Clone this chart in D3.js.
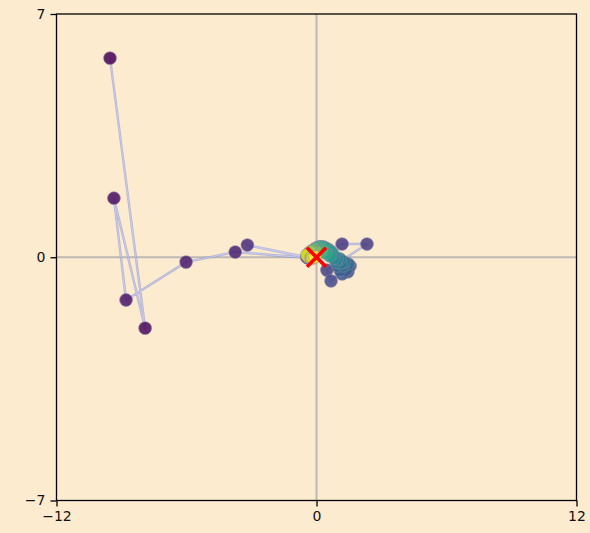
<!DOCTYPE html>
<html>
<head>
<meta charset="utf-8">
<script src="https://cdn.jsdelivr.net/npm/d3@7"></script>
<style>
  html, body { margin: 0; padding: 0; background: #fdebd0; }
  svg { display: block; }
  text { font-family: "DejaVu Sans", sans-serif; }
</style>
</head>
<body>
<script>
// ---- data ----
const xTicks = [-12, 0, 12];
const yTicks = [-7, 0, 7];
const xDomain = [-12, 12];
const yDomain = [-7, 7];
const pathX = [
  -9.53, -7.91, -9.35, -8.79, -6.02, -3.75, -0.40, -3.19, -0.45, 1.18, 2.33, 0.48, 0.67,
  1.32, 1.45, 1.18, 1.55, 1.36, 1.08, 0.99, 1.45, 1.22, 1.27, 1.13, 1.08, 0.90, 0.95, 0.81,
  0.76, 0.67, 0.58, 0.48, 0.62, 0.39, 0.30, 0.44, 0.21, 0.12,
  0.02, 0.25, 0.07, -0.07, -0.12, -0.16, -0.02, -0.21, -0.25, -0.12,
  -0.30, -0.35, -0.39, -0.39, -0.30, -0.44, -0.25, -0.21, -0.16, -0.07
];
const pathY = [
  5.73, -2.04, 1.70, -1.23, -0.14, 0.15, -0.02, 0.35, 0.00, 0.38, 0.38, -0.37, -0.68,
  -0.31, -0.42, -0.48, -0.25, -0.37, -0.37, -0.25, -0.19, -0.25, -0.14, -0.17, -0.05, -0.14, -0.05, -0.02,
  0.09, 0.15, 0.21, 0.24, 0.04, 0.27, 0.30, 0.12, 0.30, 0.30,
  0.27, 0.18, 0.18, 0.24, 0.21, 0.15, 0.15, 0.18, 0.12, 0.09,
  0.15, 0.06, 0.09, 0.01, 0.01, 0.06, -0.02, 0.01, -0.02, 0.01
];
const target = [0, 0];

// ---- layout ----
const W = 590, H = 533;
const L = 56.5, R = 576.5, T = 14, B = 500.5;

const svg = d3.select("body").append("svg").attr("width", W).attr("height", H);
svg.append("rect").attr("width", W).attr("height", H).attr("fill", "#fdebd0");

const x = d3.scaleLinear().domain(xDomain).range([L, R]);
const y = d3.scaleLinear().domain(yDomain).range([B, T]);

// reference lines through origin
svg.append("line").attr("x1", x(0)).attr("x2", x(0)).attr("y1", T).attr("y2", B)
  .attr("stroke", "#bdb8b2").attr("stroke-width", 2);
svg.append("line").attr("x1", L).attr("x2", R).attr("y1", y(0)).attr("y2", y(0))
  .attr("stroke", "#bdb8b2").attr("stroke-width", 2);

const pts = pathX.map((v, i) => ({ x: v, y: pathY[i], i }));
const n = pts.length;

// trajectory line
const line = d3.line().x(d => x(d.x)).y(d => y(d.y));
svg.append("path").datum(pts).attr("d", line)
  .attr("fill", "none").attr("stroke", "#8990c8").attr("stroke-width", 2.4)
  .attr("stroke-opacity", 0.6).attr("stroke-linejoin", "round");
svg.append("path").datum(pts).attr("d", line)
  .attr("fill", "none").attr("stroke", "#c6cbf4").attr("stroke-width", 1)
  .attr("stroke-linejoin", "round");

// points
svg.append("g").selectAll("circle").data(pts).join("circle")
  .attr("cx", d => x(d.x)).attr("cy", d => y(d.y)).attr("r", 6.4)
  .attr("fill", d => d3.interpolateViridis(d.i / (n - 1)))
  .attr("fill-opacity", 0.85)
  .attr("stroke", "#8c80a4").attr("stroke-opacity", 0.6).attr("stroke-width", 1);

// target marker (red X)
const cx = x(target[0]), cy = y(target[1]), s = 9.5;
const xm = svg.append("g").attr("stroke", "red").attr("stroke-width", 3.6).attr("stroke-linecap", "butt");
xm.append("line").attr("x1", cx - s).attr("y1", cy - s).attr("x2", cx + s).attr("y2", cy + s);
xm.append("line").attr("x1", cx - s).attr("y1", cy + s).attr("x2", cx + s).attr("y2", cy - s);

// frame
svg.append("rect").attr("x", L).attr("y", T).attr("width", R - L).attr("height", B - T)
  .attr("fill", "none").attr("stroke", "black").attr("stroke-width", 1.3);

const fmt = v => (v < 0 ? "\u2212" + Math.abs(v) : String(v));

const xa = svg.append("g").attr("transform", `translate(0,${B})`)
  .call(d3.axisBottom(x).tickValues(xTicks).tickSize(6).tickPadding(5).tickFormat(fmt));
const ya = svg.append("g").attr("transform", `translate(${L},0)`)
  .call(d3.axisLeft(y).tickValues(yTicks).tickSize(6).tickPadding(5).tickFormat(fmt));
[xa, ya].forEach(a => {
  a.select(".domain").remove();
  a.selectAll("line").attr("stroke", "black").attr("stroke-width", 1.3);
  a.selectAll("text").attr("font-size", 14).attr("fill", "#111")
    .style("font-family", "'DejaVu Sans', sans-serif");
});
</script>
</body>
</html>
